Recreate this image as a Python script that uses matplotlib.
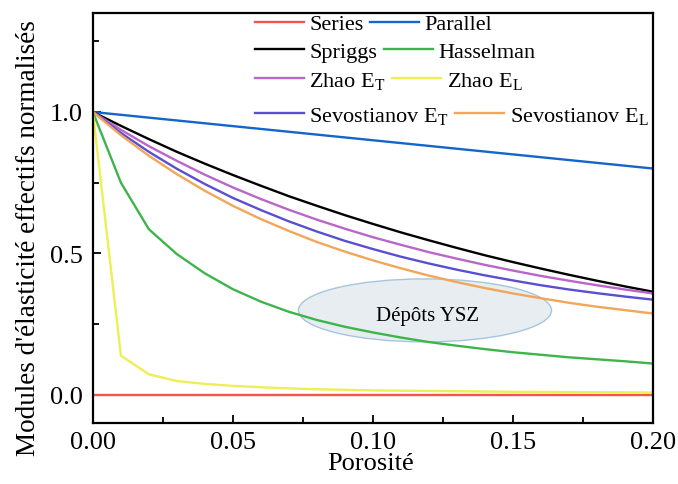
import matplotlib
matplotlib.use("Agg")
import matplotlib.pyplot as plt
from matplotlib.patches import Ellipse
from matplotlib.legend import Legend
from matplotlib.ticker import MultipleLocator, FormatStrFormatter

plt.rcParams['font.family'] = ['Liberation Serif', 'DejaVu Serif']
plt.rcParams['mathtext.fontset'] = 'custom'
plt.rcParams['mathtext.rm'] = 'Liberation Serif'
plt.rcParams['mathtext.it'] = 'Liberation Serif'

# porosite (0 -> 0.20, pas de 0.01)
porosite = [0.00, 0.01, 0.02, 0.03, 0.04, 0.05, 0.06, 0.07, 0.08, 0.09, 0.10,
            0.11, 0.12, 0.13, 0.14, 0.15, 0.16, 0.17, 0.18, 0.19, 0.20]

series = [0.0] * 21
parallel = [1.00, 0.99, 0.98, 0.97, 0.96, 0.95, 0.94, 0.93, 0.92, 0.91, 0.90,
            0.89, 0.88, 0.87, 0.86, 0.85, 0.84, 0.83, 0.82, 0.81, 0.80]
spriggs = [1.000, 0.951, 0.904, 0.859, 0.817, 0.777, 0.739, 0.702, 0.668, 0.635, 0.604,
           0.574, 0.546, 0.519, 0.493, 0.469, 0.446, 0.424, 0.403, 0.383, 0.364]
hasselman = [1.000, 0.750, 0.585, 0.497, 0.429, 0.373, 0.329, 0.293, 0.264, 0.240, 0.220,
             0.202, 0.186, 0.173, 0.161, 0.150, 0.141, 0.132, 0.125, 0.118, 0.110]
zhao_t = [1.000, 0.937, 0.879, 0.827, 0.778, 0.733, 0.692, 0.654, 0.619, 0.587, 0.557,
          0.530, 0.504, 0.481, 0.459, 0.439, 0.420, 0.403, 0.387, 0.372, 0.358]
zhao_l = [1.000, 0.138, 0.072, 0.048, 0.038, 0.031, 0.026, 0.022, 0.019, 0.017, 0.015,
          0.014, 0.013, 0.012, 0.011, 0.010, 0.0095, 0.009, 0.0085, 0.008, 0.0075]
sevo_t = [1.000, 0.926, 0.859, 0.799, 0.745, 0.696, 0.653, 0.613, 0.577, 0.544, 0.515,
          0.488, 0.464, 0.442, 0.422, 0.404, 0.387, 0.372, 0.359, 0.347, 0.336]
sevo_l = [1.000, 0.918, 0.845, 0.780, 0.721, 0.668, 0.621, 0.579, 0.540, 0.506, 0.475,
          0.447, 0.421, 0.398, 0.377, 0.358, 0.341, 0.325, 0.311, 0.299, 0.287]

fig = plt.figure(figsize=(6.78, 4.85), dpi=100)
ax = fig.add_axes([0.137, 0.126, 0.826, 0.845])

lw = 1.7
l_series, = ax.plot(porosite, series, color='#F2554C', lw=lw, label='Series')
l_par, = ax.plot(porosite, parallel, color='#1466C8', lw=lw, label='Parallel')
l_spr, = ax.plot(porosite, spriggs, color='black', lw=lw, label='Spriggs')
l_has, = ax.plot(porosite, hasselman, color='#3DB54A', lw=lw, label='Hasselman')
l_zt, = ax.plot(porosite, zhao_t, color='#B867C9', lw=lw, label=r'Zhao E$_{\mathrm{T}}$')
l_zl, = ax.plot(porosite, zhao_l, color='#EEEE55', lw=lw, label=r'Zhao E$_{\mathrm{L}}$')
l_st, = ax.plot(porosite, sevo_t, color='#5A4FD2', lw=lw, label=r'Sevostianov E$_{\mathrm{T}}$')
l_sl, = ax.plot(porosite, sevo_l, color='#F2A65A', lw=lw, label=r'Sevostianov E$_{\mathrm{L}}$')

ell = Ellipse((0.1186, 0.298), 0.0904, 0.223, facecolor='#E0E8EC', edgecolor='#8DB6D2',
              lw=1.0, alpha=0.75, zorder=1)
ax.add_patch(ell)
ax.text(0.1195, 0.28, 'Dépôts YSZ', ha='center', va='center', fontsize=15, zorder=3)

ax.set_xlim(0, 0.2)
ax.set_ylim(-0.1, 1.35)
ax.xaxis.set_major_locator(MultipleLocator(0.05))
ax.xaxis.set_minor_locator(MultipleLocator(0.025))
ax.yaxis.set_major_locator(MultipleLocator(0.5))
ax.yaxis.set_minor_locator(MultipleLocator(0.25))
ax.xaxis.set_major_formatter(FormatStrFormatter('%.2f'))
ax.yaxis.set_major_formatter(FormatStrFormatter('%.1f'))
ax.tick_params(which='both', direction='in', labelsize=19, width=1.3)
ax.tick_params(axis='x', pad=6)
ax.tick_params(axis='y', pad=7)
ax.tick_params(which='major', length=6)
ax.tick_params(which='minor', length=4)
for s in ax.spines.values():
    s.set_linewidth(1.6)

ax.set_xlabel('Porosité', fontsize=19)
ax.xaxis.set_label_coords(0.495, -0.072)
ax.xaxis.label.set_verticalalignment('top')
ax.set_ylabel("Modules d'élasticité effectifs normalisés", fontsize=19.5)
ax.yaxis.set_label_coords(-0.093, 0.454)

# legende en 4 lignes (colonnes non alignees comme dans l'original)
rows = [([l_series, l_par], 0.973), ([l_spr, l_has], 0.905),
        ([l_zt, l_zl], 0.835), ([l_st, l_sl], 0.75)]
for handles, yy in rows:
    leg = Legend(ax, handles, [h.get_label() for h in handles], ncol=2, loc='center left',
                 bbox_to_anchor=(0.289, yy), frameon=False, fontsize=16,
                 handlelength=2.2, handletextpad=0.25, columnspacing=0.3,
                 borderpad=0, borderaxespad=0)
    ax.add_artist(leg)

fig.savefig('out.png', dpi=100)
